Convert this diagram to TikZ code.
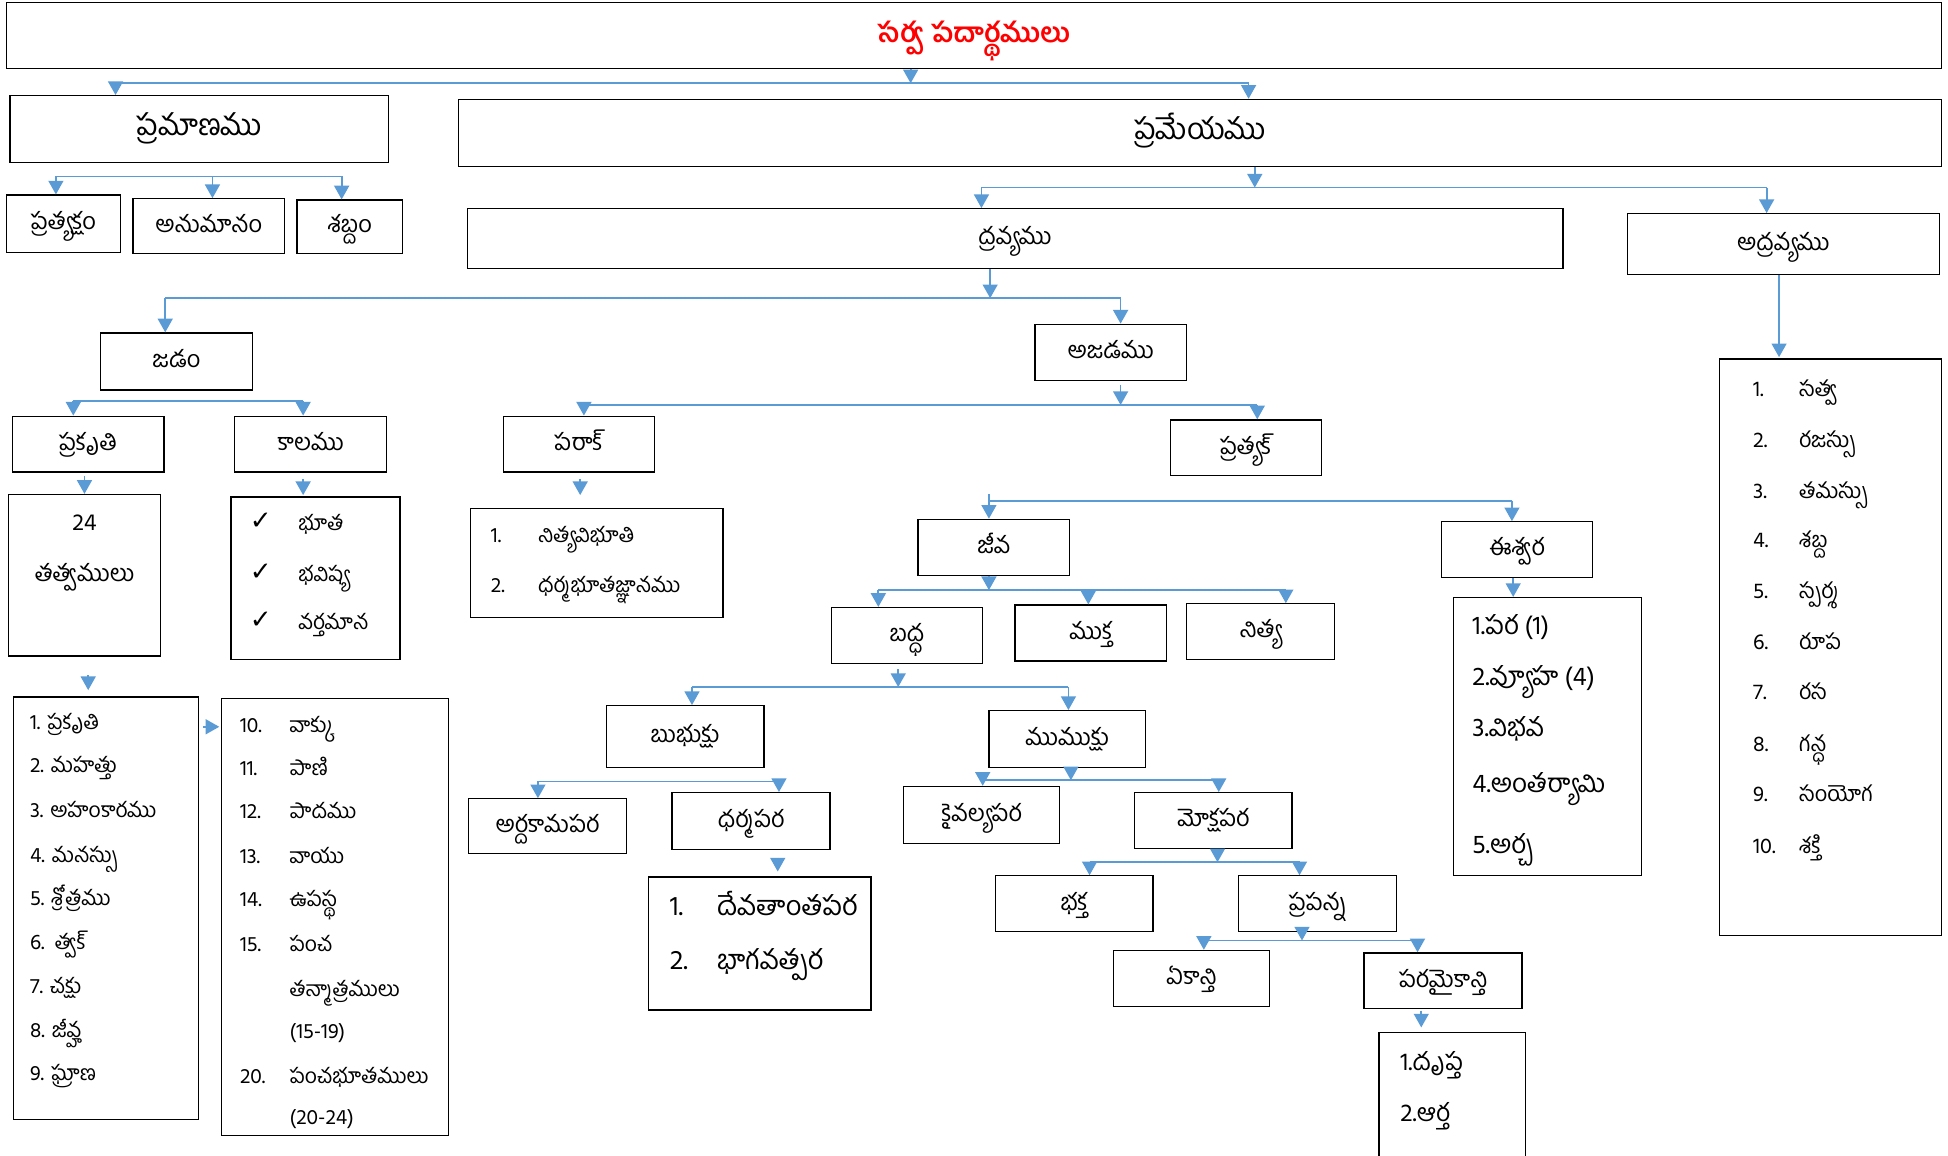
\documentclass[tikz,border=0pt]{standalone}
\usepackage{fontspec}
\setmainfont{Hind Guntur}[Script=Telugu]
\newfontfamily\symf{DejaVu Sans}
\usetikzlibrary{arrows.meta}
\definecolor{lblue}{RGB}{91,155,213}
\definecolor{tred}{RGB}{255,0,0}
\newcommand\fT{\fontsize{22}{26}\selectfont\bfseries}
\newcommand\fA{\fontsize{24}{28}\selectfont}
\newcommand\fB{\fontsize{19}{22}\selectfont}
\newcommand\fL{\fontsize{17}{20}\selectfont}
\newcommand\fR{\fontsize{17.5}{20}\selectfont}
\newcommand\fI{\fontsize{21}{24}\selectfont}
\newcommand\fD{\fontsize{22}{25}\selectfont}
\newcommand\fP{\fontsize{20}{23}\selectfont}
\newcommand\mkbox[7][]{%
  \pgfmathsetmacro\bxc{(#3+#5)/2}\pgfmathsetmacro\byc{(#4+#6)/2}%
  \pgfmathsetmacro\bw{#5-#3}\pgfmathsetmacro\bh{#6-#4}%
  \node[box,minimum width=\bw pt,minimum height=\bh pt,#1] (#2) at (\bxc,\byc) {#7};}
\newcommand\link[5]{% x, from, to, shorten start, shorten end
  \path (#1,0) coordinate (tmpx);
  \draw[arr,shorten <=#4pt,shorten >=#5pt] (#2.south -| tmpx) -- (#3.north -| tmpx);}
\tikzset{
  box/.style={draw=black,line width=1pt,inner sep=0pt,text height=1em,text depth=0pt},
  ln/.style={draw=lblue,line width=1.4pt},
  arr/.style={draw=lblue,line width=1.4pt,-{Triangle[width=12pt,length=11pt,fill=lblue]}},
  lt/.style={anchor=base west,inner sep=0pt,font=\fL},
  ck/.style={anchor=base west,inner sep=0pt,font={\symf\fontsize{21}{24}\selectfont}},
}
\begin{document}
\begin{tikzpicture}[x=1pt,y=-1pt]
\fill[white] (0,0) rectangle (1568,930);
\useasboundingbox (0,0) rectangle (1568,930);

% ---------- boxes ----------
\mkbox[font=\fT,text=tred,text height=1.07em]{title}{5}{2}{1563}{55}{సర్వ పదార్థములు}
\mkbox[font=\fA]{pramana}{8}{77}{313}{131}{ప్రమాణము}
\mkbox[font=\fA]{prameya}{369}{80}{1563}{134}{ప్రమేయము}
\mkbox[font=\fB]{pratyaksham}{5}{157}{97}{203}{ప్రత్యక్షం}
\mkbox[font=\fB]{anumana}{107}{160}{229}{204}{అనుమానం}
\mkbox[font=\fB]{shabda}{239}{161}{324}{204}{శబ్దం}
\mkbox[font=\fB]{dravya}{376}{168}{1258}{216}{ద్రవ్యము}
\mkbox[font=\fB]{adravya}{1310}{172}{1561}{221}{అద్రవ్యము}
\mkbox{adlist}{1384}{289}{1563}{753}{}
\mkbox[font=\fB]{jadam}{81}{268}{203}{314}{జడం}
\mkbox[font=\fB]{ajada}{833}{261}{955}{306}{అజడము}
\mkbox[font=\fB]{prakruti}{10}{335}{132}{380}{ప్రకృతి}
\mkbox[font=\fB]{kala}{189}{335}{311}{380}{కాలము}
\mkbox{tattva}{7}{398}{129}{528}{}
\mkbox{kalalist}{186}{400}{322}{531}{}
\mkbox{listA}{11}{561}{160}{901}{}
\mkbox{listB}{178}{562}{361}{914}{}
\mkbox[font=\fB]{parak}{405}{335}{527}{380}{పరాక్}
\mkbox{paraklist}{379}{409}{582}{497}{}
\mkbox[font=\fB]{pratyak}{942}{338}{1064}{383}{ప్రత్యక్}
\mkbox[font=\fB]{jiva}{739}{418}{861}{463}{జీవ}
\mkbox[font=\fB]{iswara}{1160}{420}{1282}{465}{ఈశ్వర}
\mkbox{iswlist}{1170}{481}{1321}{705}{}
\mkbox[font=\fB]{baddha}{669}{489}{791}{534}{బద్ధ}
\mkbox[font=\fB]{mukta}{817}{487}{939}{532}{ముక్త}
\mkbox[font=\fB]{nitya}{955}{486}{1074}{531}{నిత్య}
\mkbox[font=\fB]{bubhuksu}{488}{568}{615}{618}{బుభుక్షు}
\mkbox[font=\fB]{mumuksu}{796}{572}{922}{618}{ముముక్షు}
\mkbox[font=\fB]{artha}{377}{643}{504}{687}{అర్దకామపర}
\mkbox[font=\fB]{dharma}{541}{638}{668}{684}{ధర్మపర}
\mkbox{dharmalist}{522}{706}{701}{813}{}
\mkbox[font=\fB]{kaivalya}{727}{633}{853}{679}{కైవల్యపర}
\mkbox[font=\fB]{moksha}{913}{638}{1040}{683}{మోక్షపర}
\mkbox[font=\fB]{bhakta}{801}{705}{928}{750}{భక్త}
\mkbox[font=\fB]{prapanna}{997}{705}{1124}{750}{ప్రపన్న}
\mkbox[font=\fB]{ekanti}{896}{765}{1022}{810}{ఏకాన్తి}
\mkbox[font=\fB]{parama}{1098}{767}{1225}{812}{పరమైకాన్తి}
% open box at the bottom edge
\coordinate (pl1) at (1110,934);
\coordinate (pl2) at (1228,831);
\coordinate (pl3) at (1228,934);
\draw[line width=1pt] (pl1) |- (pl2) -- (pl3);
\node[inner sep=0pt,minimum width=118pt,minimum height=0pt,anchor=north] (paralist) at (1169,831) {};

% ---------- list texts ----------
\node[font=\fB] (t24) at (68,421) {24};
\node[font=\fB] (ttv) at (68,465) {తత్వములు};

\node[ck] (ck1) at (201,426) {✓};
\node[ck] (ck2) at (201,467) {✓};
\node[ck] (ck3) at (201,506) {✓};
\node[lt] (k1) at (240,427) {భూత};
\node[lt] (k2) at (240,468) {భవిష్య};
\node[lt] (k3) at (240,507) {వర్తమాన};

\node[lt] (a1) at (24,587) {1. ప్రకృతి};
\node[lt] (a2) at (24,622) {2. మహత్తు};
\node[lt] (a3) at (24,658) {3. అహంకారము};
\node[lt] (a4) at (24,694) {4. మనస్సు};
\node[lt] (a5) at (24,729) {5. శ్రోత్రము};
\node[lt] (a6) at (24,764) {6.\ \ త్వక్};
\node[lt] (a7) at (24,800) {7. చక్షు};
\node[lt] (a8) at (24,835) {8. జీవ్హ};
\node[lt] (a9) at (24,870) {9. ఘ్రాణ};

\node[lt] (b1) at (193,590) {\makebox[40pt][l]{10.}వాక్కు};
\node[lt] (b2) at (193,624) {\makebox[40pt][l]{11.}పాణి};
\node[lt] (b3) at (193,659) {\makebox[40pt][l]{12.}పాదము};
\node[lt] (b4) at (193,695) {\makebox[40pt][l]{13.}వాయు};
\node[lt] (b5) at (193,730) {\makebox[40pt][l]{14.}ఉపస్థ};
\node[lt] (b6) at (193,766) {\makebox[40pt][l]{15.}పంచ};
\node[lt] (b7) at (233,802) {తన్మాత్రములు};
\node[lt] (b8) at (233,836) {(15-19)};
\node[lt] (b9) at (193,872) {\makebox[40pt][l]{20.}పంచభూతములు};
\node[lt] (b10) at (233,905) {(20-24)};

\node[lt] (p1) at (395,437) {\makebox[38pt][l]{1.}నిత్యవిభూతి};
\node[lt] (p2) at (395,477) {\makebox[38pt][l]{2.}ధర్మభూతజ్ఞానము};

\node[lt,font=\fI] (i1) at (1185,511) {1.పర (1)};
\node[lt,font=\fI] (i2) at (1185,552) {2.వ్యూహ (4)};
\node[lt,font=\fI] (i3) at (1185,593) {3.విభవ};
\node[lt,font=\fI] (i4) at (1185,638) {4.అంతర్యామి};
\node[lt,font=\fI] (i5) at (1185,687) {5.అర్చ};

\node[lt,font=\fD] (d1) at (539,737) {\makebox[38pt][l]{1.}దేవతాంతపర};
\node[lt,font=\fD] (d2) at (539,780) {\makebox[38pt][l]{2.}భాగవత్పర};

\node[lt,font=\fP] (q1) at (1127,862) {1.దృప్త};
\node[lt,font=\fP] (q2) at (1127,903) {2.ఆర్త};

\node[lt,font=\fR] (r1) at (1411,319) {\makebox[37pt][l]{1.}సత్వ};
\node[lt,font=\fR] (r2) at (1411,360) {\makebox[37pt][l]{2.}రజస్సు};
\node[lt,font=\fR] (r3) at (1411,401) {\makebox[37pt][l]{3.}తమస్సు};
\node[lt,font=\fR] (r4) at (1411,441) {\makebox[37pt][l]{4.}శబ్ద};
\node[lt,font=\fR] (r5) at (1411,482) {\makebox[37pt][l]{5.}స్పర్శ};
\node[lt,font=\fR] (r6) at (1411,523) {\makebox[37pt][l]{6.}రూప};
\node[lt,font=\fR] (r7) at (1411,563) {\makebox[37pt][l]{7.}రస};
\node[lt,font=\fR] (r8) at (1411,605) {\makebox[37pt][l]{8.}గన్ధ};
\node[lt,font=\fR] (r9) at (1411,645) {\makebox[37pt][l]{9.}సంయోగ};
\node[lt,font=\fR] (r10) at (1411,687) {\makebox[37pt][l]{10.}శక్తి};

% ---------- bracket connectors ----------
% title
\coordinate (s0) at (733,67); \coordinate (b0a) at (93,67); \coordinate (b0b) at (1005,67);
\draw[ln] (b0a) -- (b0b);
\draw[arr] (title.south -| s0) -- (s0);
\draw[arr] (b0a) -- (pramana.north -| b0a);
\draw[arr] (b0b) -- (prameya.north -| b0b);
% pramanamu
\coordinate (b1a) at (45,142); \coordinate (b1b) at (171,142); \coordinate (b1c) at (275,142);
\draw[ln] (b1a) -- (b1c);
\draw[arr] (b1a) -- (pratyaksham.north -| b1a);
\draw[arr] (b1b) -- (anumana.north -| b1b);
\draw[arr] (b1c) -- (shabda.north -| b1c);
% prameyamu
\coordinate (s2) at (1010,151); \coordinate (b2a) at (790,151); \coordinate (b2b) at (1422,151);
\draw[ln] (b2a) -- (b2b);
\draw[arr] (prameya.south -| s2) -- (s2);
\draw[arr] (b2a) -- (dravya.north -| b2a);
\draw[arr] (b2b) -- (adravya.north -| b2b);
% dravyamu
\coordinate (s3) at (797,240); \coordinate (b3a) at (133,240); \coordinate (b3b) at (902,240);
\draw[ln] (b3a) -- (b3b);
\draw[arr] (dravya.south -| s3) -- (s3);
\draw[arr] (b3a) -- (jadam.north -| b3a);
\draw[arr] (b3b) -- (ajada.north -| b3b);
% jadam
\coordinate (b4a) at (59,323); \coordinate (b4b) at (244,323);
\draw[ln] (b4a) -- (b4b);
\draw[arr] (b4a) -- (prakruti.north -| b4a);
\draw[arr] (b4b) -- (kala.north -| b4b);
% ajadamu
\coordinate (s5) at (902,326); \coordinate (b5a) at (470,326); \coordinate (b5b) at (1012,326);
\draw[ln] (b5a) -- (b5b);
\draw[arr,shorten <=3pt] (ajada.south -| s5) -- (s5);
\draw[arr] (b5a) -- (parak.north -| b5a);
\draw[arr] (b5b) -- (pratyak.north -| b5b);
% pratyak
\coordinate (b6a) at (796,403); \coordinate (b6b) at (1217,403); \coordinate (b6t) at (796,398);
\draw[ln] (b6t) |- (b6b);
\draw[arr] (b6t) -- (jiva.north -| b6t);
\draw[arr] (b6b) -- (iswara.north -| b6b);
% jiva
\coordinate (s7) at (796,475); \coordinate (b7a) at (707,475); \coordinate (b7b) at (876,475); \coordinate (b7c) at (1035,475);
\draw[ln] (b7a) -- (b7c);
\draw[arr] (jiva.south -| s7) -- (s7);
\draw[arr] (b7a) -- (baddha.north -| b7a);
\draw[arr] (b7b) -- (mukta.north -| b7b);
\draw[arr] (b7c) -- (nitya.north -| b7c);
% baddha
\coordinate (s8) at (723,553); \coordinate (b8a) at (557,553); \coordinate (b8b) at (860,553);
\draw[ln] (b8a) -- (b8b);
\draw[arr,shorten <=4pt] (baddha.south -| s8) -- (s8);
\draw[arr] (b8a) -- (bubhuksu.north -| b8a);
\draw[arr] (b8b) -- (mumuksu.north -| b8b);
% bubhuksu
\coordinate (b9a) at (433,629); \coordinate (b9b) at (627,629);
\draw[ln] (b9a) -- (b9b);
\draw[arr] (b9a) -- (artha.north -| b9a);
\draw[arr] (b9b) -- (dharma.north -| b9b);
% mumuksu
\coordinate (s10) at (862,628); \coordinate (b10a) at (791,628); \coordinate (b10b) at (981,628);
\draw[ln] (b10a) -- (b10b);
\draw[arr] (mumuksu.south -| s10) -- (s10);
\draw[arr] (b10a) -- (kaivalya.north -| b10a);
\draw[arr] (b10b) -- (moksha.north -| b10b);
% mokshapara
\coordinate (s11) at (980,694); \coordinate (b11a) at (877,694); \coordinate (b11b) at (1046,694);
\draw[ln] (b11a) -- (b11b);
\draw[arr] (moksha.south -| s11) -- (s11);
\draw[arr] (b11a) -- (bhakta.north -| b11a);
\draw[arr] (b11b) -- (prapanna.north -| b11b);
% prapanna
\coordinate (s12) at (1048,757); \coordinate (b12a) at (969,757); \coordinate (b12b) at (1141,757);
\draw[ln] (b12a) -- (b12b);
\draw[arr] (prapanna.south -| s12) -- (s12);
\draw[arr] (b12a) -- (ekanti.north -| b12a);
\draw[arr] (b12b) -- (parama.north -| b12b);

% ---------- single arrows ----------
\link{68}{prakruti}{tattva}{3}{0}
\link{244}{kala}{kalalist}{5}{1}
\link{467}{parak}{paraklist}{5}{10}
\link{71}{tattva}{listA}{15}{5}
\link{626}{dharma}{dharmalist}{6}{4}
\link{1144}{parama}{paralist}{1}{4}
\link{1218}{iswara}{iswlist}{0}{0}
\link{1432}{adravya}{adlist}{0}{1}
\path (0,585) coordinate (tmpy);
\draw[arr,shorten <=3pt,shorten >=1pt] (listA.east |- tmpy) -- (listB.west |- tmpy);
\end{tikzpicture}
\end{document}
